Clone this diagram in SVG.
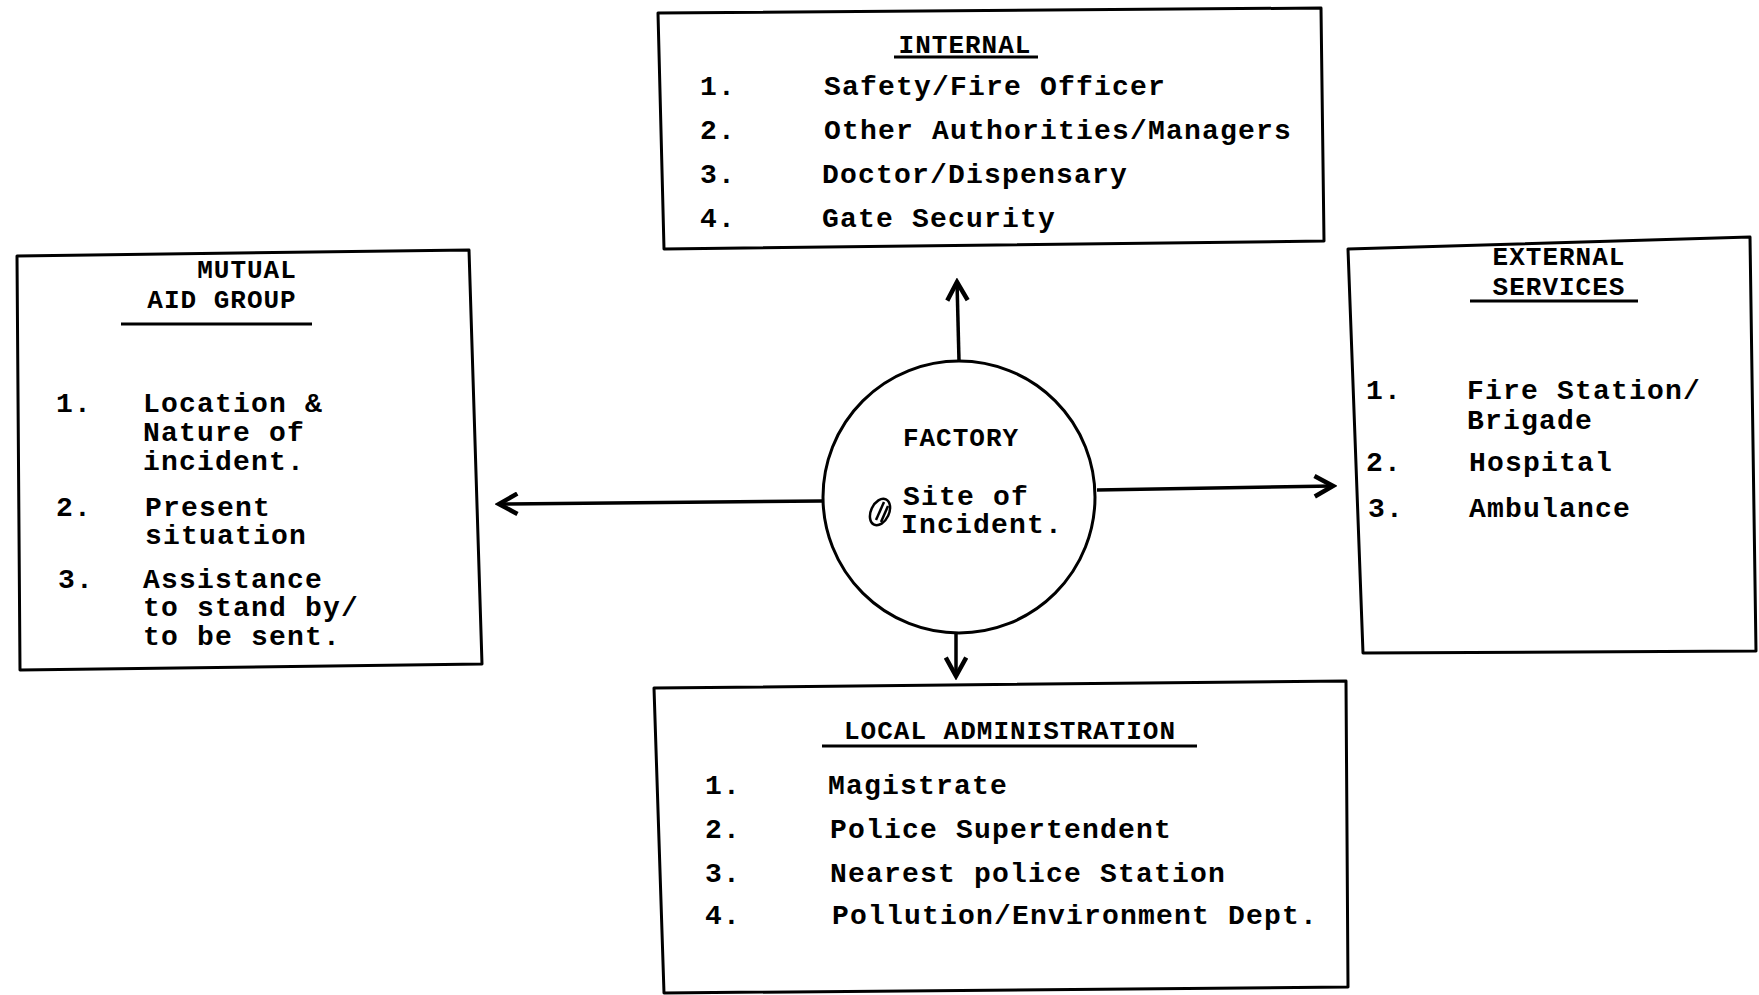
<svg xmlns="http://www.w3.org/2000/svg" width="1759" height="995" viewBox="0 0 1759 995">
<defs>
<style>
.box{fill:none;stroke:#000;stroke-width:3;stroke-linejoin:round}
.t{font-family:"Liberation Mono","DejaVu Sans Mono",monospace;font-size:28px;font-weight:bold;fill:#000;letter-spacing:1.2px}
.h{font-family:"Liberation Mono","DejaVu Sans Mono",monospace;font-size:26px;font-weight:bold;fill:#000;letter-spacing:1px}
.ul{stroke:#000;stroke-width:3}
.conn{stroke:#000;stroke-width:3.5;fill:none}
</style>
<marker id="arr" viewBox="0 0 12 12" refX="10" refY="6" markerWidth="7" markerHeight="7" orient="auto" markerUnits="strokeWidth">
<path d="M1,1 L10,6 L1,11" fill="none" stroke="#000" stroke-width="2.2" stroke-linejoin="miter"/>
</marker>
</defs>
<rect width="1759" height="995" fill="#fff"/>

<g id="connectors">
<line class="conn" x1="959" y1="361" x2="957" y2="282" marker-end="url(#arr)"/>
<line class="conn" x1="822" y1="501" x2="499" y2="504" marker-end="url(#arr)"/>
<line class="conn" x1="1097" y1="490" x2="1333" y2="486" marker-end="url(#arr)"/>
<line class="conn" x1="956" y1="632" x2="956" y2="676" marker-end="url(#arr)"/>
</g>

<g id="internal">
<polygon class="box" points="658,13 1321,8 1324,241 664,249"/>
<text class="h" x="965" y="53" text-anchor="middle">INTERNAL</text>
<line class="ul" x1="894" y1="57" x2="1038" y2="57"/>
<text class="t" x="700" y="95">1.</text><text class="t" x="824" y="95">Safety/Fire Officer</text>
<text class="t" x="700" y="139">2.</text><text class="t" x="824" y="139">Other Authorities/Managers</text>
<text class="t" x="700" y="183">3.</text><text class="t" x="822" y="183">Doctor/Dispensary</text>
<text class="t" x="700" y="227">4.</text><text class="t" x="822" y="227">Gate Security</text>
</g>

<g id="mutual-aid">
<polygon class="box" points="17,256 469,250 482,664 20,670"/>
<text class="h" x="247" y="278" text-anchor="middle">MUTUAL</text>
<text class="h" x="222" y="308" text-anchor="middle">AID GROUP</text>
<line class="ul" x1="121" y1="324" x2="312" y2="324"/>
<text class="t" x="56" y="412">1.</text><text class="t" x="143" y="412">Location &amp;</text>
<text class="t" x="143" y="441">Nature of</text>
<text class="t" x="143" y="470">incident.</text>
<text class="t" x="56" y="516">2.</text><text class="t" x="145" y="516">Present</text>
<text class="t" x="145" y="544">situation</text>
<text class="t" x="58" y="588">3.</text><text class="t" x="143" y="588">Assistance</text>
<text class="t" x="143" y="616">to stand by/</text>
<text class="t" x="143" y="645">to be sent.</text>
</g>

<g id="external">
<polygon class="box" points="1348,249 1750,237 1756,651 1363,653"/>
<text class="h" x="1559" y="265" text-anchor="middle">EXTERNAL</text>
<text class="h" x="1559" y="295" text-anchor="middle">SERVICES</text>
<line class="ul" x1="1470" y1="301" x2="1638" y2="301"/>
<text class="t" x="1366" y="399">1.</text><text class="t" x="1467" y="399">Fire Station/</text>
<text class="t" x="1467" y="429">Brigade</text>
<text class="t" x="1366" y="471">2.</text><text class="t" x="1469" y="471">Hospital</text>
<text class="t" x="1368" y="517">3.</text><text class="t" x="1469" y="517">Ambulance</text>
</g>

<g id="local-admin">
<polygon class="box" points="654,688 1346,681 1348,987 664,993"/>
<text class="h" x="1010" y="739" text-anchor="middle">LOCAL ADMINISTRATION</text>
<line class="ul" x1="822" y1="746" x2="1197" y2="746"/>
<text class="t" x="705" y="794">1.</text><text class="t" x="828" y="794">Magistrate</text>
<text class="t" x="705" y="838">2.</text><text class="t" x="830" y="838">Police Supertendent</text>
<text class="t" x="705" y="882">3.</text><text class="t" x="830" y="882">Nearest police Station</text>
<text class="t" x="705" y="924">4.</text><text class="t" x="832" y="924">Pollution/Environment Dept.</text>
</g>

<g id="factory">
<circle cx="959" cy="497" r="136" fill="none" stroke="#000" stroke-width="3"/>
<text class="h" x="961" y="446" text-anchor="middle">FACTORY</text>
<g fill="none" stroke="#000" stroke-width="2.5">
<ellipse cx="880" cy="512" rx="9" ry="14" transform="rotate(25 880 512)"/>
<line x1="876" y1="520" x2="884" y2="502"/>
<line x1="881" y1="522" x2="888" y2="506"/>
</g>
<text class="t" x="903" y="505">Site of</text>
<text class="t" x="901" y="533">Incident.</text>
</g>
</svg>
